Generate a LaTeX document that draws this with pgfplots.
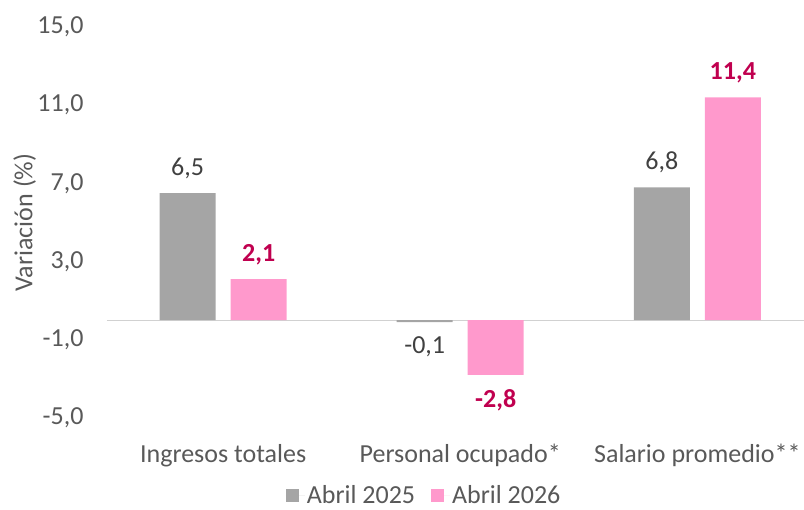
\documentclass[border=0pt]{standalone}
\usepackage{pgfplots}
\pgfplotsset{compat=1.18}
\usepackage{fontspec}
\setmainfont{Carlito}
\definecolor{gbar}{HTML}{A5A5A5}
\definecolor{pbar}{HTML}{FF99CC}
\definecolor{plab}{HTML}{C0004F}
\definecolor{txt}{HTML}{595959}
\definecolor{lab}{HTML}{404040}
\newcommand{\fs}{\fontsize{26}{30}\selectfont}
\begin{document}
\begin{tikzpicture}
\begin{axis}[
  name=ax,
  scale only axis,
  width=697pt, height=391pt,
  ymin=-5, ymax=15,
  xmin=-0.49, xmax=2.45,
  ytick={-5,-1,3,7,11,15},
  xtick=data,
  xticklabels={Ingresos totales,Personal ocupado*,Salario promedio**},
  axis line style={draw=none},
  major tick length=0pt,
  ybar=15pt, bar width=56pt,
  /pgf/number format/assume math mode=true,
  /pgf/number format/.cd, use comma, fixed, fixed zerofill, precision=1, 1000 sep={},
  /pgfplots/.cd,
  tick label style={font=\fs, text=txt},
  yticklabel style={xshift=-20pt},
  xticklabel style={yshift=-23pt},
  ylabel={Variación (\%)},
  every axis y label/.style={at={(axis description cs:-0.118,0.5)}, rotate=90, anchor=center, font=\fs, text=txt},
  extra y ticks={0},
  extra y tick labels={},
  extra y tick style={grid=major, major grid style={draw=black!18, line width=1.2pt}},
  legend style={at={(0.455,-0.198)}, anchor=center, draw=none, legend columns=2,
    font=\fs, text=txt, inner sep=0pt,
    /tikz/every even column/.append style={column sep=14pt}},
  legend image code/.code={\fill[#1] (0pt,-6.5pt) rectangle (13pt,6.5pt); \path (0pt,0pt) -- (19pt,0pt);},
  nodes near coords,
  nodes near coords align={vertical},
]
\addplot[fill=gbar, draw=none,
  every node near coord/.append style={font=\fs, text=lab, inner ysep=14pt}]
  coordinates {(0,6.5) (1,-0.1) (2,6.8)};
\addplot[fill=pbar, draw=none,
  every node near coord/.append style={font=\bfseries\fs, text=plab, inner ysep=14pt}]
  coordinates {(0,2.1) (1,-2.8) (2,11.4)};
\legend{Abril 2025, Abril 2026}
\end{axis}
\pgfresetboundingbox
\path (ax.south west) ++(-107pt,-92pt) coordinate (bl);
\path (ax.north east) ++(0pt,27pt) coordinate (tr);
\useasboundingbox (bl) rectangle (tr);
\end{tikzpicture}
\end{document}
